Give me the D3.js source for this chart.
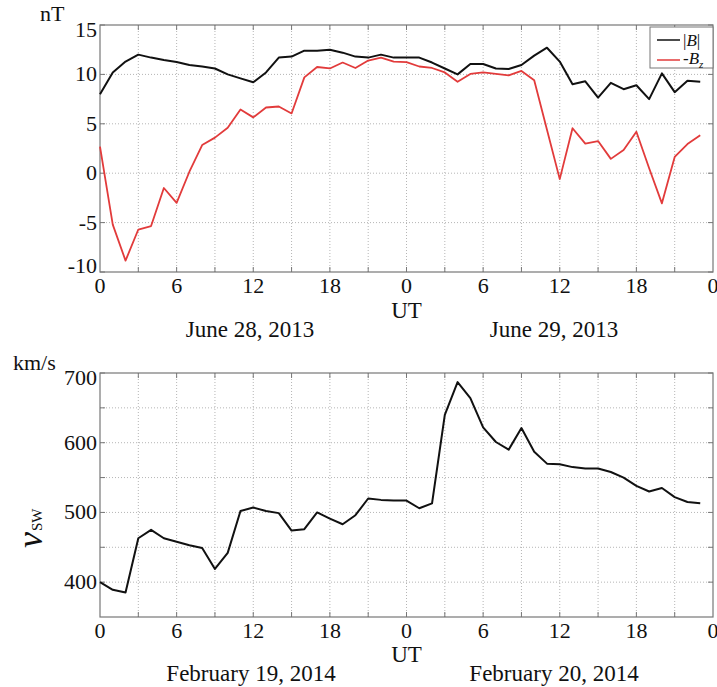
<!DOCTYPE html>
<html>
<head>
<meta charset="utf-8">
<script src="https://cdn.jsdelivr.net/npm/d3@7"></script>
<style>
  html, body { margin: 0; padding: 0; background: #fff; }
  svg { display: block; }
  text { font-family: "Liberation Serif", "DejaVu Serif", serif; fill: #111; }
</style>
</head>
<body>
<svg id="chart" width="717" height="687"></svg>
<script>
// Hourly samples, 0..47 UT over two days
const hours = d3.range(0, 48);

// Interplanetary magnetic field, June 28-29, 2013 (nT)
const bTotal = [
  8.0, 10.2, 11.3, 12.0, 11.7, 11.45, 11.25, 10.95, 10.8, 10.6, 10.0, 9.6,
  9.2, 10.2, 11.7, 11.8, 12.4, 12.4, 12.5, 12.2, 11.8, 11.7, 12.0, 11.7,
  11.7, 11.7, 11.2, 10.6, 10.0, 11.05, 11.05, 10.6, 10.55, 10.95, 11.9, 12.7,
  11.3, 9.0, 9.3, 7.65, 9.15, 8.5, 8.9, 7.5, 10.1, 8.2, 9.35, 9.25
];
const negBz = [
  2.7, -5.2, -8.85, -5.7, -5.35, -1.5, -3.0, 0.15, 2.85, 3.6, 4.6, 6.45,
  5.65, 6.65, 6.75, 6.05, 9.7, 10.75, 10.6, 11.2, 10.65, 11.4, 11.7, 11.3,
  11.25, 10.8, 10.65, 10.2, 9.25, 10.05, 10.2, 10.05, 9.9, 10.35, 9.4, 4.4,
  -0.6, 4.55, 3.0, 3.25, 1.45, 2.35, 4.2, 0.5, -3.05, 1.65, 2.95, 3.85
];

// Solar wind speed, February 19-20, 2014 (km/s)
const vsw = [
  400, 389, 385, 463, 475, 463, 458, 453, 449, 419, 442, 502,
  507, 502, 499, 474, 476, 500, 491, 483, 496, 520, 518, 517,
  517, 506, 513, 640, 687, 664, 622, 601, 590, 621, 587, 570,
  569, 565, 563, 563, 558, 550, 538, 530, 535, 522, 515, 513
];

const gridHours = d3.range(0, 49, 3);
const labelHours = d3.range(0, 49, 6);
const topTicks = [-10, -5, 0, 5, 10, 15];
const bottomTicks = [400, 500, 600, 700];
const bottomGrid = d3.range(400, 701, 50);

const svg = d3.select("#chart");
const L = 100, R = 713;
const x = d3.scaleLinear().domain([0, 48]).range([L, R]);

const yTop = d3.scaleLinear().domain([-10, 15]).range([272, 25]);
const yBot = d3.scaleLinear().domain([350, 700]).range([617, 373]);

const TICK_FONT = 22;

function panel(y, yGrid, yLabels) {
  const g = svg.append("g");
  const [y0, y1] = y.range(); // bottom, top
  // dotted grid
  g.selectAll(".gx").data(gridHours.slice(1, -1)).join("line")
    .attr("x1", d => x(d)).attr("x2", d => x(d))
    .attr("y1", y1).attr("y2", y0)
    .attr("stroke", "#b5b5b5").attr("stroke-width", 1)
    .attr("stroke-dasharray", "1,2");
  g.selectAll(".gy").data(yGrid.filter(v => y(v) > y1 + 1 && y(v) < y0 - 1)).join("line")
    .attr("x1", L).attr("x2", R)
    .attr("y1", d => y(d)).attr("y2", d => y(d))
    .attr("stroke", "#b5b5b5").attr("stroke-width", 1)
    .attr("stroke-dasharray", "1,2");
  // inward tick marks on all four sides
  gridHours.slice(1, -1).forEach(h => {
    g.append("line").attr("x1", x(h)).attr("x2", x(h)).attr("y1", y0).attr("y2", y0 - 5)
      .attr("stroke", "#777");
    g.append("line").attr("x1", x(h)).attr("x2", x(h)).attr("y1", y1).attr("y2", y1 + 5)
      .attr("stroke", "#777");
  });
  yGrid.forEach(v => {
    g.append("line").attr("x1", L).attr("x2", L + 5).attr("y1", y(v)).attr("y2", y(v))
      .attr("stroke", "#777");
    g.append("line").attr("x1", R).attr("x2", R - 5).attr("y1", y(v)).attr("y2", y(v))
      .attr("stroke", "#777");
  });
  // frame
  g.append("rect").attr("x", L).attr("y", y1).attr("width", R - L).attr("height", y0 - y1)
    .attr("fill", "none").attr("stroke", "#777").attr("stroke-width", 1.2);
  // y tick labels
  g.selectAll(".yl").data(yLabels).join("text")
    .attr("x", L - 3)
    .attr("y", d => Math.min(Math.max(y(d) + 2, y1 + 7), y0 - 4))
    .attr("text-anchor", "end").attr("dominant-baseline", "middle")
    .attr("font-size", TICK_FONT).text(d => d);
  // x tick labels
  g.selectAll(".xl").data(labelHours).join("text")
    .attr("x", d => x(d)).attr("y", y0 + 21)
    .attr("text-anchor", "middle")
    .attr("font-size", TICK_FONT).text(d => d % 24);
  return g;
}

// ---- Upper panel: |B| and -Bz ----
const gTop = panel(yTop, topTicks, topTicks);
const lineTop = v => d3.line().x((d, i) => x(hours[i])).y(d => yTop(d))(v);
gTop.append("path").attr("d", lineTop(negBz))
  .attr("fill", "none").attr("stroke", "#e23b3b").attr("stroke-width", 1.8)
  .attr("stroke-linejoin", "round");
gTop.append("path").attr("d", lineTop(bTotal))
  .attr("fill", "none").attr("stroke", "#111").attr("stroke-width", 2)
  .attr("stroke-linejoin", "round");

svg.append("text").attr("x", 40).attr("y", 21).attr("font-size", 22).text("nT");
svg.append("text").attr("x", x(24)).attr("y", 318).attr("text-anchor", "middle")
  .attr("font-size", 23).text("UT");
svg.append("text").attr("x", 250).attr("y", 337).attr("text-anchor", "middle")
  .attr("font-size", 23).text("June 28, 2013");
svg.append("text").attr("x", 554).attr("y", 337).attr("text-anchor", "middle")
  .attr("font-size", 23).text("June 29, 2013");

// legend
const lg = svg.append("g");
lg.append("rect").attr("x", 650).attr("y", 27).attr("width", 63).attr("height", 41)
  .attr("fill", "#fff").attr("stroke", "#777").attr("stroke-width", 1);
lg.append("line").attr("x1", 657).attr("x2", 680).attr("y1", 40).attr("y2", 40)
  .attr("stroke", "#111").attr("stroke-width", 1.5);
lg.append("line").attr("x1", 657).attr("x2", 680).attr("y1", 60).attr("y2", 60)
  .attr("stroke", "#e23b3b").attr("stroke-width", 1.5);
const t1 = lg.append("text").attr("x", 683).attr("y", 46).attr("font-size", 17);
t1.append("tspan").text("|");
t1.append("tspan").attr("font-style", "italic").text("B");
t1.append("tspan").text("|");
const t2 = lg.append("text").attr("x", 683).attr("y", 64).attr("font-size", 17);
t2.append("tspan").text("-");
t2.append("tspan").attr("font-style", "italic").text("B");
t2.append("tspan").attr("font-size", 11).attr("font-style", "italic").attr("dy", 4).text("z");

// ---- Lower panel: solar wind speed ----
const gBot = panel(yBot, bottomGrid, bottomTicks);
gBot.append("path")
  .attr("d", d3.line().x((d, i) => x(hours[i])).y(d => yBot(d))(vsw))
  .attr("fill", "none").attr("stroke", "#111").attr("stroke-width", 2)
  .attr("stroke-linejoin", "round");

svg.append("text").attr("x", 13).attr("y", 370).attr("font-size", 22).text("km/s");
const vl = svg.append("text").attr("transform", "translate(42,548) rotate(-90)");
vl.append("tspan").attr("font-style", "italic").attr("font-size", 36).text("v");
vl.append("tspan").attr("font-size", 15).attr("dx", 1).text("SW");
svg.append("text").attr("x", x(24)).attr("y", 662).attr("text-anchor", "middle")
  .attr("font-size", 23).text("UT");
svg.append("text").attr("x", 251).attr("y", 681).attr("text-anchor", "middle")
  .attr("font-size", 23).text("February 19, 2014");
svg.append("text").attr("x", 554).attr("y", 681).attr("text-anchor", "middle")
  .attr("font-size", 23).text("February 20, 2014");
</script>
</body>
</html>
